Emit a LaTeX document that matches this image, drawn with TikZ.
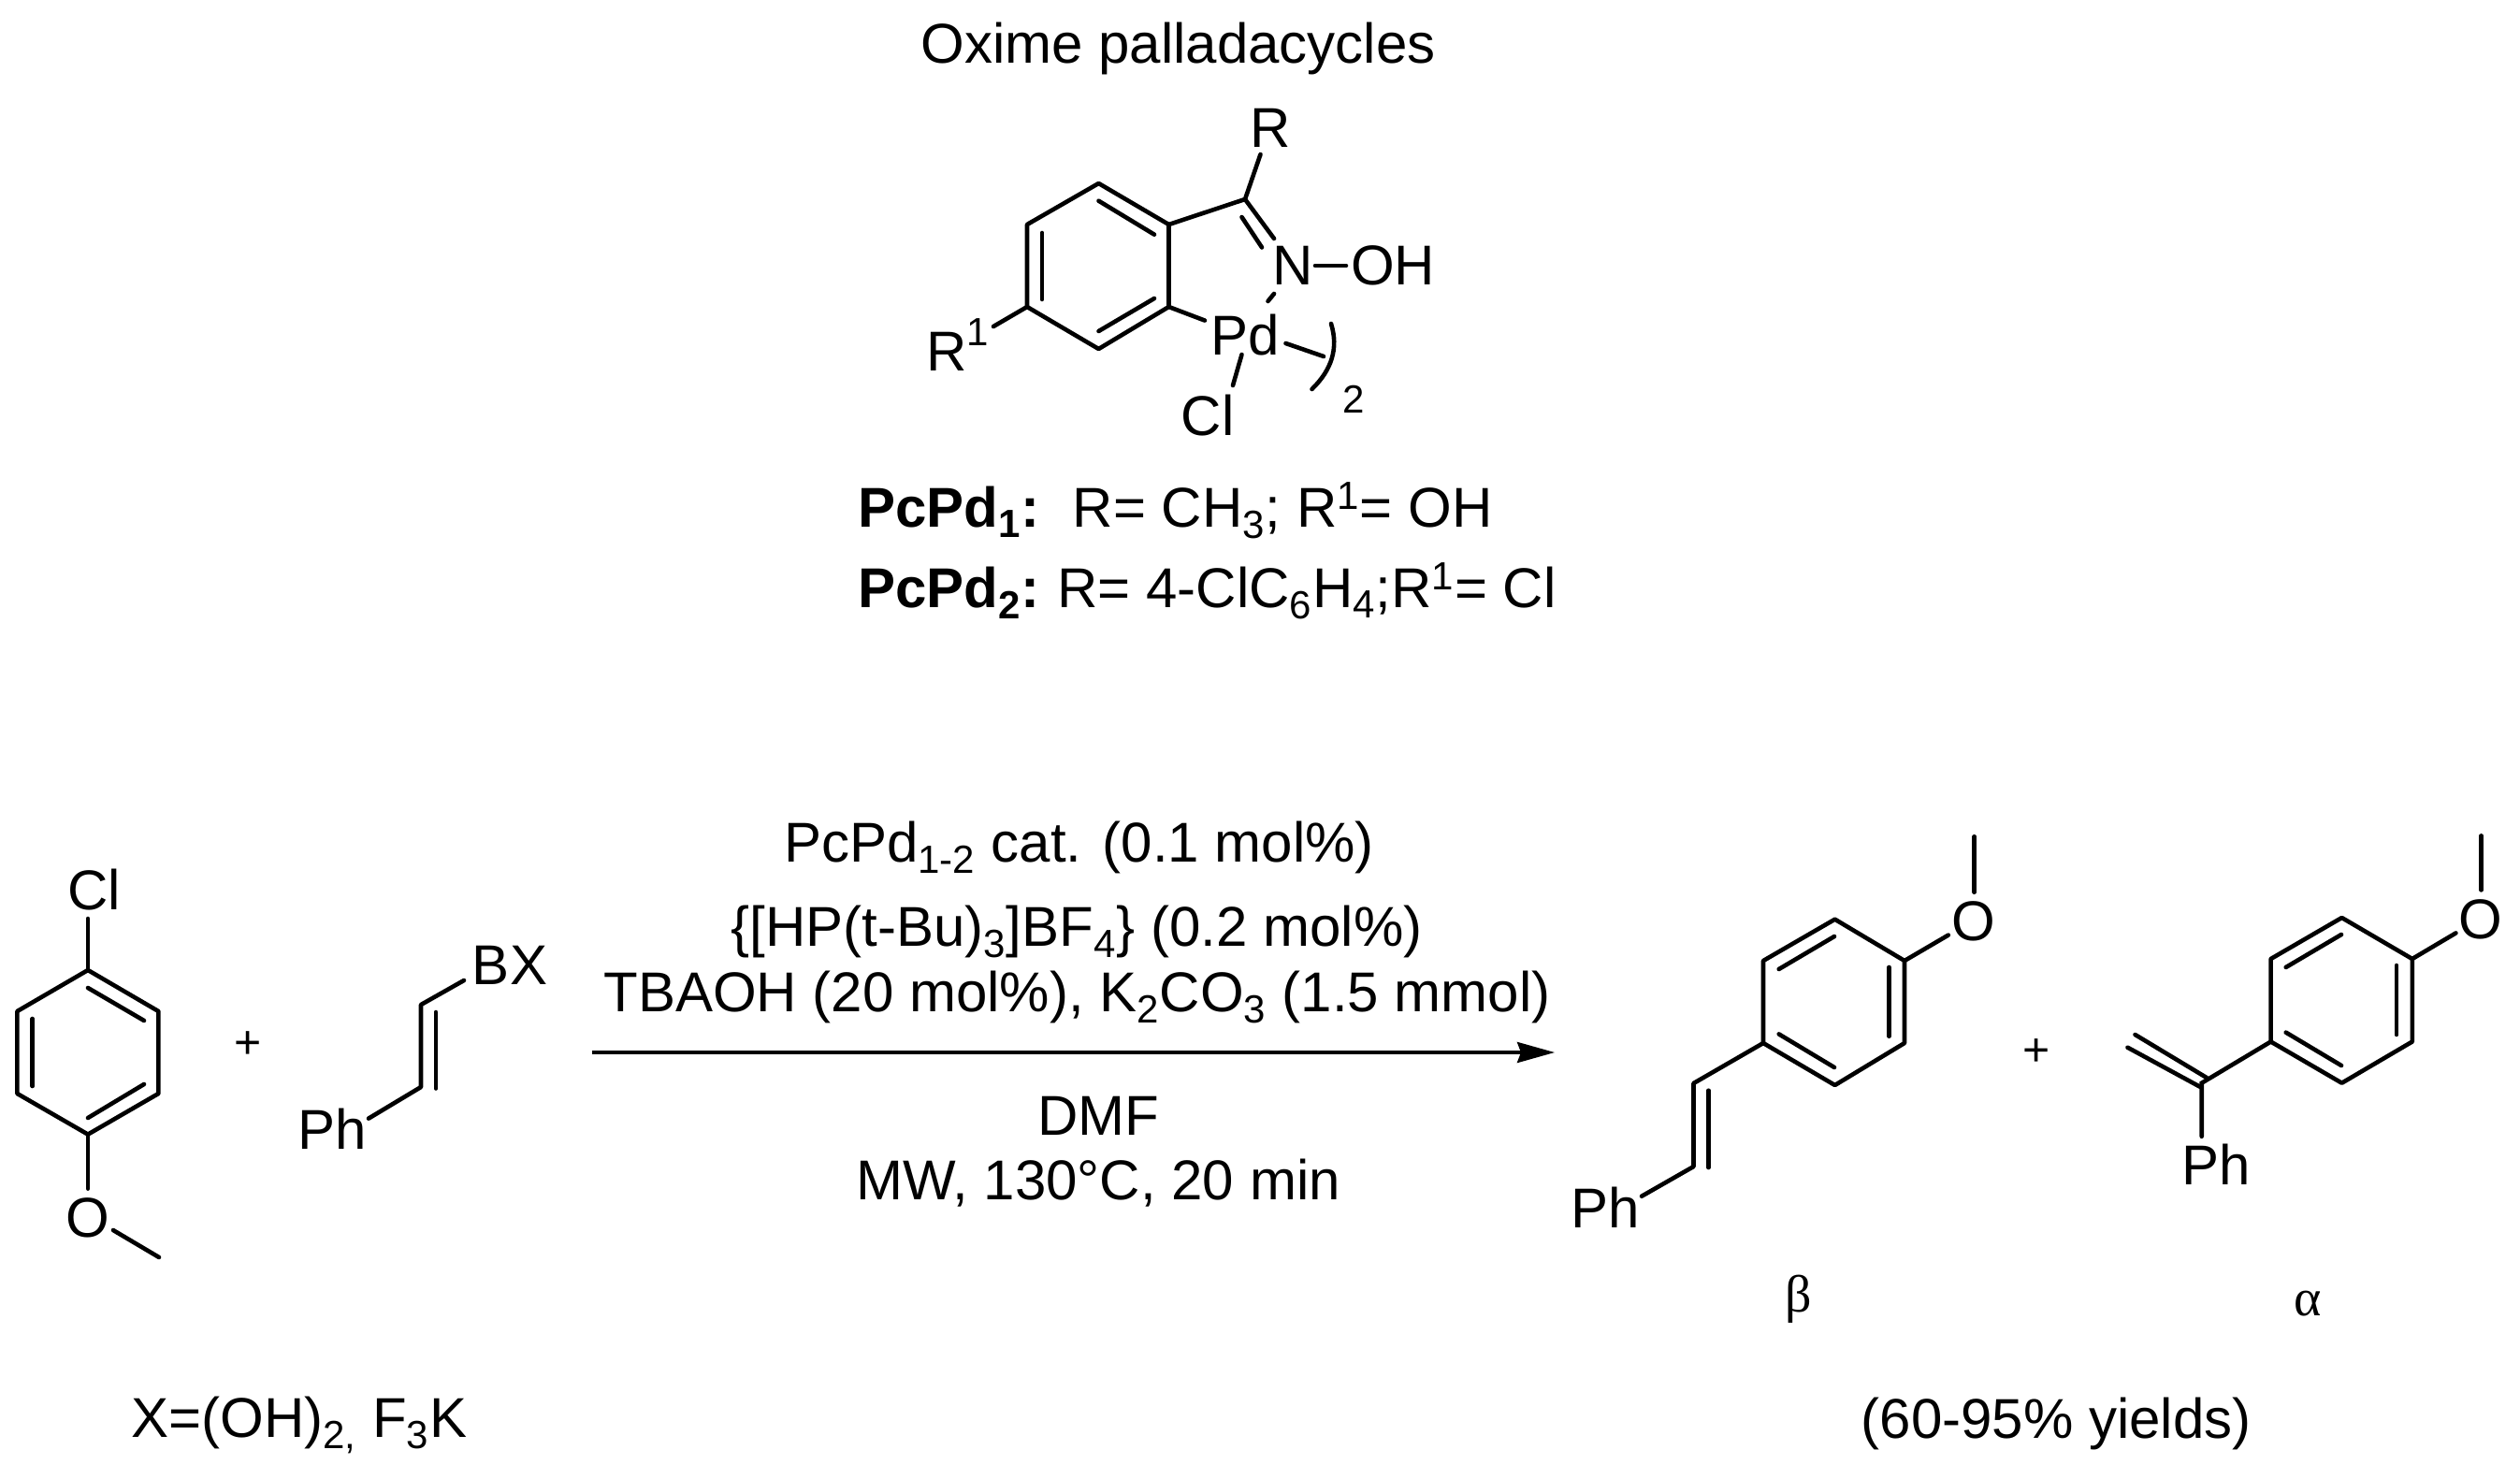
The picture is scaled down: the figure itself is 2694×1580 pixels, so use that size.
\documentclass[tikz,border=0pt]{standalone}
\usepackage{fontspec}
\setmainfont{Liberation Sans}
\newfontfamily\greekfont{Liberation Serif}
\usetikzlibrary{arrows.meta}
\tikzset{
  bond/.style={line width=2.3pt,line cap=round},
  atom/.style={inner sep=0pt,font=\fontsize{30}{34}\selectfont},
  label/.style={inner sep=0pt,anchor=base west,font=\fontsize{30}{34}\selectfont},
  cond/.style={inner sep=0pt,anchor=base,font=\fontsize{30}{34}\selectfont},
}
\begin{document}
\begin{tikzpicture}[x=0.5pt,y=-0.5pt]
\useasboundingbox (0,0) rectangle (2694,1580);
% headline and oxime palladacycle
\node[label] (title) at (984,67) {Oxime palladacycles};
\coordinate (p1) at (1174.5,196);
\coordinate (p2) at (1249.5,240);
\coordinate (p3) at (1249.5,328);
\coordinate (p4) at (1174.5,373);
\coordinate (p5) at (1098,328);
\coordinate (p6) at (1098,240);
\coordinate (pc) at (1331,213);
\draw[bond,line join=round] (p1) -- (p2) -- (p3) -- (p4) -- (p5) -- (p6) -- cycle;
\draw[bond] (1174.5,214.7) -- (1234,250.7);
\draw[bond] (1234,319) -- (1174.5,354);
\draw[bond] (1114,249) -- (1114,320);
\node[atom] (R) at (1358,136.6) {R};
\node[atom] (N) at (1382,284) {N};
\node[atom] (OH) at (1489,284) {OH};
\node[atom] (Pd) at (1331,358) {Pd};
\node[atom] (Cl) at (1291,444.5) {Cl};
\node[atom] (Ra) at (1012,376) {R};
\node[atom,font=\fontsize{21}{23}\selectfont] (Rb) at (1045,355) {1};
\node[atom] (two) at (1447,427) {\fontsize{21}{23}\selectfont 2};
\coordinate (rb) at (1347.5,165);
\coordinate (nb) at (1362,255);
\draw[bond] (p2) -- (pc) -- (rb);
\draw[bond] (pc) -- (nb);
\draw[bond] (1327.5,232) -- (1349,264.5);
\draw[bond] (1406,284) -- (1439,284);
\draw[bond] (1362,314) -- (1355.5,322);
\draw[bond] (p3) -- (1288,342.6);
\draw[bond] (1327.5,379) -- (1318,412);
\draw[bond] (1374.5,367) -- (1415,381);
\draw[bond] (p5) -- (1062,349);
\draw[bond] (1423,346) .. controls (1431,372) and (1424,395) .. (1402.5,416);
\node[label] (pcpda) at (917,563) {\textbf{PcPd\textsubscript{1}:}};
\node[label] (pcpdb) at (917,649) {\textbf{PcPd\textsubscript{2}:}};
\node[label] (rowa) at (1146.5,563) {R= CH\textsubscript{3}; R\textsuperscript{1}= OH};
\node[label] (rowb) at (1130,649) {R= 4-ClC\textsubscript{6}H\textsubscript{4};R\textsuperscript{1}= Cl};
% chloroanisole
\coordinate (a1) at (94,1037);
\coordinate (a2) at (169.4,1081);
\coordinate (a3) at (169.4,1169);
\coordinate (a4) at (94,1212.6);
\coordinate (a5) at (18.4,1169);
\coordinate (a6) at (18.4,1081);
\draw[bond,line join=round] (a1) -- (a2) -- (a3) -- (a4) -- (a5) -- (a6) -- cycle;
\draw[bond] (94,1056) -- (154,1091);
\draw[bond] (154,1159) -- (94,1195);
\draw[bond] (34.7,1089) -- (34.7,1161);
\node[atom] (ClA) at (100.5,951) {Cl};
\node[atom] (OA) at (94,1302) {O};
\draw[bond] (a1) -- (94,982);
\draw[bond] (a4) -- (94,1270.6);
\draw[bond] (121,1315) -- (170,1344);
\node[atom,font=\fontsize{25}{27}\selectfont] (plusA) at (265,1116.6) {+};
% styryl boron
\node[atom] (BX) at (545,1032) {BX};
\node[atom] (PhA) at (355.6,1207) {Ph};
\coordinate (b1) at (450,1074);
\coordinate (b2) at (450,1162);
\draw[bond,line join=round] (496,1048) -- (b1) -- (b2) -- (394,1195.6);
\draw[bond] (466,1082) -- (466,1163.5);
\node[label] (xnote) at (140,1536) {X=(OH)\textsubscript{2,} F\textsubscript{3}K};
% arrow and conditions
\coordinate (arrS) at (633,1125);
\coordinate (arrE) at (1662,1125);
\draw[line width=1.8pt,-{Stealth[length=20pt,width=11pt,inset=2pt]}] (arrS) -- (arrE);
\node[cond] (c1) at (1153.5,921) {PcPd\textsubscript{1-2} cat. (0.1 mol\%)};
\node[cond] (c2) at (1151,1011.5) {\{[HP(t-Bu)\textsubscript{3}]BF\textsubscript{4}\} (0.2 mol\%)};
\node[cond] (c3) at (1151.5,1081) {TBAOH (20 mol\%), K\textsubscript{2}CO\textsubscript{3} (1.5 mmol)};
\node[cond] (c4) at (1174,1213) {DMF};
\node[cond] (c5) at (1174,1282.5) {MW, 130°C, 20 min};
% beta product
\coordinate (d1) at (1961.6,982.7);
\coordinate (d2) at (2036,1027);
\coordinate (d3) at (2036,1115);
\coordinate (d4) at (1961.6,1160);
\coordinate (d5) at (1885,1115);
\coordinate (d6) at (1885,1027);
\draw[bond,line join=round] (d1) -- (d2) -- (d3) -- (d4) -- (d5) -- (d6) -- cycle;
\draw[bond] (1961,1001) -- (1901.7,1036);
\draw[bond] (2019.5,1034) -- (2019.5,1107.7);
\draw[bond] (1901.7,1105.4) -- (1961,1141);
\node[atom] (OB) at (2109.4,985) {O};
\node[atom] (PhB) at (1716.6,1290.7) {Ph};
\draw[bond] (d2) -- (2082.8,999.6);
\draw[bond] (2110.7,953.7) -- (2110.7,894.3);
\draw[bond,line join=round] (d5) -- (1810.5,1158) -- (1810.5,1247) -- (1755,1278.7);
\draw[bond] (1826.4,1165.7) -- (1826.4,1248);
\node[atom,font=\fontsize{25}{27}\selectfont] (plusB) at (2177,1125.5) {+};
% alpha product
\coordinate (e1) at (2503.5,981);
\coordinate (e2) at (2578.8,1025);
\coordinate (e3) at (2578.8,1113.5);
\coordinate (e4) at (2503.5,1157.7);
\coordinate (e5) at (2427.6,1113.5);
\coordinate (e6) at (2427.6,1025);
\coordinate (ec) at (2353.7,1157.7);
\draw[bond,line join=round] (e1) -- (e2) -- (e3) -- (e4) -- (e5) -- (e6) -- cycle;
\draw[bond] (2503,999) -- (2443.7,1034);
\draw[bond] (2562,1032) -- (2562,1106);
\draw[bond] (2443.7,1103.6) -- (2503,1139);
\node[atom] (OC) at (2652,982.7) {O};
\node[atom] (PhC) at (2369,1245) {Ph};
\draw[bond] (e2) -- (2625.4,997.4);
\draw[bond] (2652.7,951.4) -- (2652.7,893.4);
\draw[bond] (e5) -- (ec) -- (2353.7,1214.8);
\draw[bond] (2282.5,1106) -- (2359,1152);
\draw[bond] (2274.5,1119.7) -- (2352.4,1162);
% isomer labels
\node[atom,font=\greekfont\fontsize{28}{30}\selectfont] (beta) at (1923,1389) {β};
\node[atom,font=\greekfont\fontsize{28}{30}\selectfont] (alpha) at (2467.6,1393.4) {α};
\node[label] (yield) at (1989.5,1537) {(60-95\% yields)};
\end{tikzpicture}
\end{document}
